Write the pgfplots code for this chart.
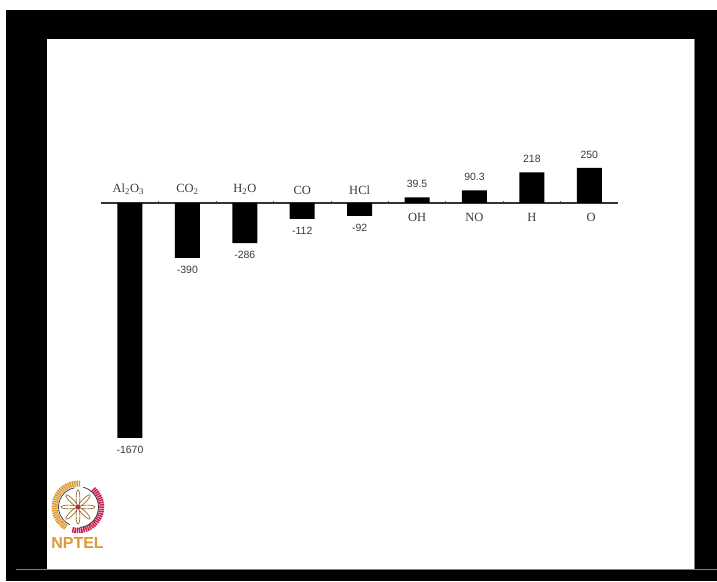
\documentclass[border=0pt]{standalone}
\usepackage{pgfplots}
\pgfplotsset{compat=1.18}
\usepackage{fontspec}
\setmainfont{Liberation Serif}
\newfontfamily\valfont{Liberation Sans}
\newfontfamily\logofont{Liberation Sans}
\definecolor{labgray}{HTML}{3A3A3A}
\definecolor{logogold}{HTML}{DB9A35}
\definecolor{logored}{HTML}{C8204F}
\begin{document}
\begin{tikzpicture}[x=1pt,y=1pt]
	% slide frame, one unit = one pixel of the reference
	\useasboundingbox (0,0) rectangle (717,581);
	\fill[white] (0,0) rectangle (717,581);
	\fill[black] (6,0) rectangle (717,571);
	\fill[white] (47,12) rectangle (694,542);
	\draw[gray,line width=0.6pt] (694,12) -- (694,542);
	\draw[gray,line width=0.8pt] (16,11.5) -- (717,11.5);

	% NPTEL logo
	\begin{scope}[shift={(78,74)}]
		\draw[logogold,line width=6pt,dash pattern=on 1.5pt off 0.7pt] (85:23.5) arc (85:240:23.5);
		\draw[logored,line width=5.5pt,dash pattern=on 1.5pt off 0.7pt] (50:23.5) arc (50:-105:23.5);
		\draw[black!75,line width=0.8pt] (100:19.5) arc (100:245:19.5);
		\draw[black!75,line width=0.8pt] (75:20.5) arc (75:-85:20.5);
		\foreach \a in {0,45,...,315}
			\draw[logogold!70!black,line width=0.7pt,rotate=\a,fill=white] (9,0) ellipse (8 and 1.9);
		\fill[logored] (0,0) circle (2.4);
	\end{scope}
	\node[font=\logofont\bfseries\fontsize{16}{16}\selectfont,text=logogold,inner sep=0pt] at (77.5,38) {NPTEL};

	\begin{axis}[
		at={(101pt,0pt)},anchor=south west,
		scale only axis,
		width=517pt,height=581pt,
		xmin=-0.505,xmax=8.5,
		ymin=-2686.6,ymax=1442.8,
		axis x line=middle,
		axis y line=none,
		axis line style={-,draw=black!80,line width=1.1pt},
		xtick={0.5,1.5,2.5,3.5,4.5,5.5,6.5,7.5},
		xticklabels={},
		major tick length=3pt,
		tick style={draw=black!60,line width=0.7pt},
		clip=false,
		point meta=explicit symbolic,
		nodes near coords,
		]
		% values below zero
		\addplot[ybar,bar width=25pt,bar shift=0pt,fill=black,draw=none,
			nodes near coords align={anchor=north},
			every node near coord/.append style={font=\valfont\fontsize{10.5}{10.5}\selectfont,text=labgray,inner sep=3pt,yshift=-5pt}]
			coordinates {
				(0,-1670)[-1670] (1,-390)[-390] (2,-286)[-286] (3,-112)[-112] (4,-92)[-92]
			};
		% values above zero
		\addplot[ybar,bar width=25pt,bar shift=0pt,fill=black,draw=none,
			nodes near coords align={anchor=south},
			every node near coord/.append style={font=\valfont\fontsize{10.5}{10.5}\selectfont,text=labgray,inner sep=3pt,yshift=6.5pt}]
			coordinates {
				(5,39.5)[39.5] (6,90.3)[90.3] (7,218)[218] (8,250)[250]
			};
		% names above the line
		\addplot[draw=none,mark=none,
			nodes near coords align={anchor=south},
			every node near coord/.append style={font=\fontsize{12.5}{12.5}\selectfont,text=labgray,inner sep=0pt,yshift=8.5pt}]
			coordinates {
				(-0.03,0)[Al\textsubscript{2}O\textsubscript{3}] (1,0)[CO\textsubscript{2}]
				(2,0)[H\textsubscript{2}O] (3,0)[CO] (4,0)[HCl]
			};
		% names below the line
		\addplot[draw=none,mark=none,
			nodes near coords align={anchor=north},
			every node near coord/.append style={font=\fontsize{12.5}{12.5}\selectfont,text=labgray,inner sep=0pt,yshift=-10.5pt}]
			coordinates {
				(5,0)[OH] (6,0)[NO] (7,0)[H] (8.03,0)[O]
			};
	\end{axis}
\end{tikzpicture}
\end{document}
